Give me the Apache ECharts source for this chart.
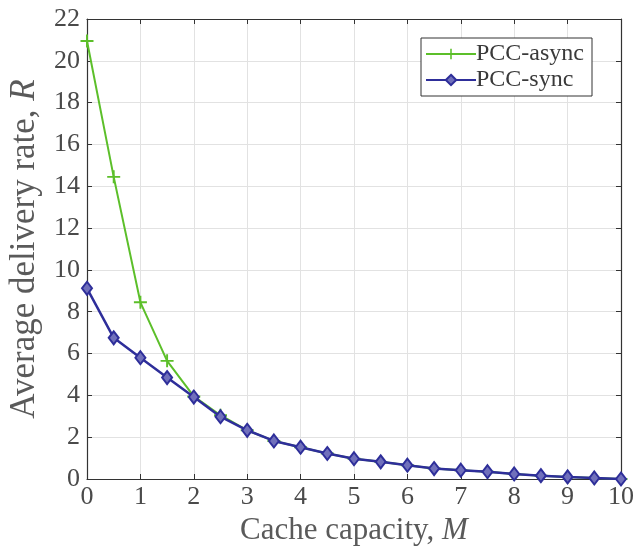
<!DOCTYPE html>
<html><head><meta charset="utf-8">
<script src="https://cdn.jsdelivr.net/npm/echarts@6/dist/echarts.min.js"></script>
<style>html,body{margin:0;padding:0;background:#fff}#c{width:640px;height:551px}</style>
</head><body><div id="c"></div>
<script>
const xValues = [0,0.5,1,1.5,2,2.5,3,3.5,4,4.5,5,5.5,6,6.5,7,7.5,8,8.5,9,9.5,10];
const asyncValues = [20.95,14.45,8.45,5.65,3.95,3.05,2.33,1.82,1.52,1.22,0.97,0.82,0.66,0.5,0.42,0.35,0.24,0.16,0.1,0.05,0];
const syncValues = [9.12,6.75,5.8,4.85,3.92,2.98,2.33,1.82,1.52,1.22,0.97,0.82,0.66,0.5,0.42,0.35,0.24,0.16,0.1,0.05,0];
const xTicks = [0,1,2,3,4,5,6,7,8,9,10];
const yTicks = [0,2,4,6,8,10,12,14,16,18,20,22];

const font = '"Liberation Serif", "DejaVu Serif", serif';
const chart = echarts.init(document.getElementById('c'));
const plus = 'path://M4,0h1.4v4h4v1.4h-4v4h-1.4v-4h-4v-1.4h4z';
const grid = {left:87, right:19, top:19, bottom:72, containLabel:false, outerBoundsMode:'none'};
const axisCommon = {
  axisLine:{show:true, onZero:false, lineStyle:{color:'#333', width:1.2}},
  axisTick:{show:true, inside:true, length:5, lineStyle:{color:'#333'}},
};
chart.setOption({
  animation:false,
  backgroundColor:'#fff',
  grid: grid,
  legend:{
    right:48, top:38, orient:'vertical', itemGap:2, itemWidth:50, itemHeight:13,
    backgroundColor:'#fff', borderColor:'#333', borderWidth:1, padding:[4,8,4,4],
    textStyle:{fontFamily:font, fontSize:24, color:'#3a3a3a', padding:[0,0,0,-5]},
    data:[{name:'PCC-async'},{name:'PCC-sync'}]
  },
  xAxis:[{
    type:'value', min:0, max:10, interval:1, ...axisCommon,
    axisLabel:{fontFamily:font, fontSize:26, color:'#4a4a4a', margin:5, formatter:v=>xTicks.includes(v)?String(v):''},
    splitLine:{show:true, lineStyle:{color:'#e2e2e2'}},
    name:'{a|Cache capacity, }{b|M}', nameLocation:'middle', nameGap:33,
    nameTextStyle:{rich:{a:{fontFamily:font,fontSize:31,color:'#5a5a5a'},b:{fontFamily:font,fontSize:31,color:'#5a5a5a',fontStyle:'italic'}}}
  },{
    type:'value', min:0, max:10, interval:1, position:'top', ...axisCommon,
    axisLabel:{show:false}, splitLine:{show:false}
  }],
  yAxis:[{
    type:'value', min:0, max:22, interval:2, ...axisCommon,
    axisLabel:{fontFamily:font, fontSize:26, color:'#4a4a4a', margin:7, formatter:v=>yTicks.includes(v)?String(v):''},
    splitLine:{show:true, lineStyle:{color:'#e2e2e2'}},
    name:'{a|Average delivery rate, }{b|R}', nameLocation:'middle', nameGap:45,
    nameTextStyle:{rich:{a:{fontFamily:font,fontSize:35,color:'#5a5a5a'},b:{fontFamily:font,fontSize:35,color:'#5a5a5a',fontStyle:'italic'}}}
  },{
    type:'value', min:0, max:22, interval:2, position:'right', ...axisCommon,
    axisLabel:{show:false}, splitLine:{show:false}
  }],
  series:[{
    name:'PCC-async', type:'line',
    data: xValues.map((x,i)=>[x, asyncValues[i]]),
    symbol: plus, symbolSize:13, showAllSymbol:true,
    lineStyle:{color:'#5cbf2a', width:2},
    itemStyle:{color:'#5cbf2a'}, color:'#5cbf2a', z:2
  },{
    name:'PCC-sync', type:'line',
    data: xValues.map((x,i)=>[x, syncValues[i]]),
    symbol:'diamond', symbolSize:[10,13], showAllSymbol:true,
    lineStyle:{color:'#2e2e9a', width:2.5},
    itemStyle:{color:'#7070bb', borderColor:'#2e2e9a', borderWidth:2}, color:'#2e2e9a', z:3
  }]
});
</script></body></html>
